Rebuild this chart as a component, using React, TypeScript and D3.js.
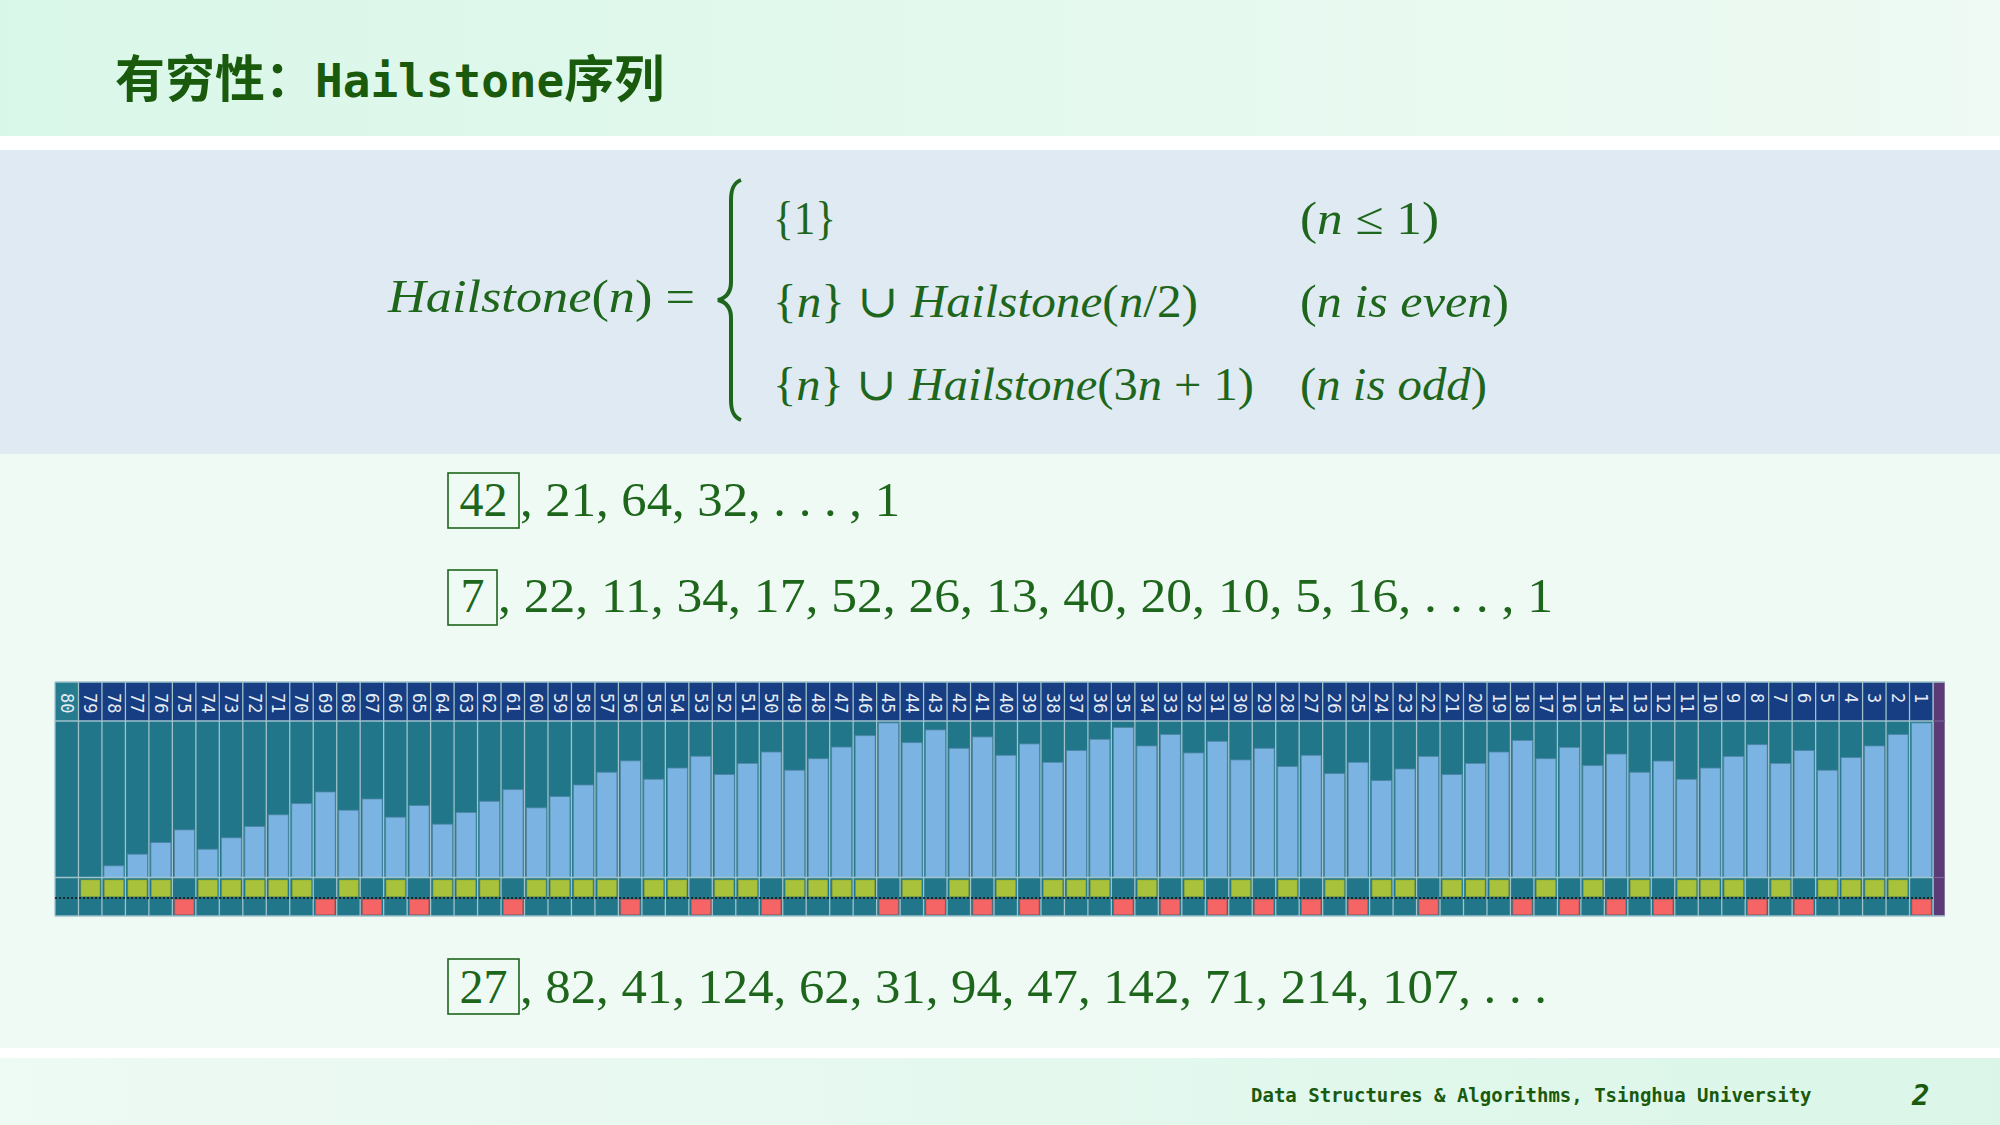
import React from "react";
import * as d3 from "d3";

// ---------- data ----------
const columnLabels = [
  80, 79, 78, 77, 76, 75, 74, 73, 72, 71, 70, 69, 68, 67, 66, 65, 64, 63, 62, 61,
  60, 59, 58, 57, 56, 55, 54, 53, 52, 51, 50, 49, 48, 47, 46, 45, 44, 43, 42, 41,
  40, 39, 38, 37, 36, 35, 34, 33, 32, 31, 30, 29, 28, 27, 26, 25, 24, 23, 22, 21,
  20, 19, 18, 17, 16, 15, 14, 13, 12, 11, 10, 9, 8, 7, 6, 5, 4, 3, 2, 1,
];
const barValues = [
  0, 0, 7.5, 15, 22.5, 30.6, 18.2, 25.5, 32.8, 40.3, 47.5, 55, 43.3, 50.5, 38.8, 46.3, 34.3, 41.8, 49, 56.5,
  44.8, 52, 59.5, 67.7, 75, 63.2, 70.4, 78, 66.2, 73.4, 80.7, 69, 76.4, 83.9, 91.2, 99.4, 86.7, 94.9, 83.1, 90.4,
  78.6, 85.9, 74.1, 81.6, 88.9, 96.4, 84.6, 91.9, 80.1, 87.6, 75.6, 83.1, 71.3, 78.6, 66.8, 74.1, 62.3, 69.8, 77.9, 66.2,
  73.4, 80.7, 88.2, 76.4, 83.7, 71.9, 79.4, 67.7, 74.9, 63.2, 70.4, 77.9, 85.4, 73.4, 81.6, 69, 77.1, 84.6, 91.9, 99.4,
];
const greenColumns = [
  79, 78, 77, 76, 74, 73, 72, 71, 70, 68, 66, 64, 63, 62, 60, 59, 58, 57, 55, 54, 52, 51, 49, 48, 47, 46,
  44, 42, 40, 38, 37, 36, 34, 32, 30, 28, 26, 24, 23, 21, 20, 19, 17, 15, 13, 11, 10, 9, 7, 5, 4, 3, 2,
];
const redColumns = [
  75, 69, 67, 65, 61, 56, 53, 50, 45, 43, 41, 39, 35, 33, 31, 29, 27, 25, 22, 18, 16, 14, 12, 8, 6, 1,
];
const seedColumn = 80;

const seq42Start = "42";
const seq42Rest = ", 21, 64, 32, . . . , 1";
const seq7Start = "7";
const seq7Rest = ", 22, 11, 34, 17, 52, 26, 13, 40, 20, 10, 5, 16, . . . , 1";
const seq27Start = "27";
const seq27Rest = ", 82, 41, 124, 62, 31, 94, 47, 142, 71, 214, 107, . . .";

// ---------- styles ----------
const GREEN_TEXT = "#1d661b";
const TITLE_GREEN = "#1a5a0c";
const TEAL = "#217689";
const NAVY = "#173d82";
const BAR = "#7bb4e2";
const BAR_EDGE = "#4e86a6";
const GRID = "#9fc2cb";
const LIME = "#a8c23b";
const RED = "#f66565";
const PURPLE = "#5b3a78";
const SERIF = "'Liberation Serif', 'DejaVu Serif', serif";
const MONO = "'DejaVu Sans Mono', 'Liberation Mono', monospace";
const CJK = "'Noto Sans CJK SC', sans-serif";

type Seg = [string, boolean];

function MathLine({ x, y, width, segs, size = 46 }: { x: number; y: number; width: number; segs: Seg[]; size?: number }) {
  return (
    <text
      x={x}
      y={y}
      fontFamily={SERIF}
      fontSize={size}
      fill={GREEN_TEXT}
      textLength={width}
      lengthAdjust="spacingAndGlyphs"
      style={{ whiteSpace: "pre" }}
    >
      {segs.map((s, i) => (
        <tspan key={i} fontStyle={s[1] ? "italic" : "normal"}>
          {s[0]}
        </tspan>
      ))}
    </text>
  );
}

function SeqLine({
  boxX, boxW, boxY, boxH, start, rest, restEnd, baseline,
}: {
  boxX: number; boxW: number; boxY: number; boxH: number; start: string; rest: string; restEnd: number; baseline: number;
}) {
  return (
    <g>
      <rect x={boxX} y={boxY} width={boxW} height={boxH} fill="none" stroke={GREEN_TEXT} strokeWidth={1.6} />
      <text x={boxX + boxW / 2} y={baseline} textAnchor="middle" fontFamily={SERIF} fontSize={48} fill={GREEN_TEXT}>
        {start}
      </text>
      <text
        x={boxX + boxW + 1}
        y={baseline}
        fontFamily={SERIF}
        fontSize={48}
        fill={GREEN_TEXT}
        textLength={restEnd - (boxX + boxW + 1)}
        lengthAdjust="spacingAndGlyphs"
      >
        {rest}
      </text>
    </g>
  );
}

function Chart() {
  const left = 55;
  const right = 1933;
  const top = 682;
  const headerBottom = 721;
  const barTop = 722;
  const barBottom = 877.5;
  const greenBottom = 898;
  const bottom = 916;

  const x = d3.scaleBand<number>().domain(columnLabels).range([left, right]).padding(0);
  const y = d3.scaleLinear().domain([0, 100]).range([barBottom, barTop]);
  const bw = x.bandwidth();

  return (
    <g>
      <rect x={left} y={top} width={right - left} height={bottom - top} fill={TEAL} />
      {columnLabels.map((c) => (
        <rect key={"h" + c} x={x(c)!} y={top} width={bw} height={headerBottom - top} fill={c === seedColumn ? "#267b8e" : NAVY} />
      ))}
      {columnLabels.map((c, i) =>
        barValues[i] > 0 ? (
          <rect
            key={"b" + c}
            x={x(c)! + 2}
            y={y(barValues[i])}
            width={bw - 3.5}
            height={barBottom - y(barValues[i])}
            fill={BAR}
            stroke={BAR_EDGE}
            strokeWidth={0.8}
          />
        ) : null
      )}
      {greenColumns.map((c) => (
        <rect key={"g" + c} x={x(c)! + 2.5} y={barBottom + 2.5} width={bw - 4.5} height={greenBottom - barBottom - 4} fill={LIME} stroke="#8ea52f" strokeWidth={0.6} />
      ))}
      {redColumns.map((c) => (
        <rect key={"r" + c} x={x(c)! + 2.5} y={greenBottom + 1.5} width={bw - 4.5} height={bottom - greenBottom - 3} fill={RED} stroke="#d94f4f" strokeWidth={0.6} />
      ))}
      {columnLabels.map((c) => (
        <line key={"v" + c} x1={x(c)!} x2={x(c)!} y1={top} y2={bottom} stroke={GRID} strokeWidth={1.3} />
      ))}
      <line x1={right} x2={right} y1={top} y2={bottom} stroke={GRID} strokeWidth={1.3} />
      {[top, headerBottom, barBottom, bottom].map((yy, i) => (
        <line key={"hl" + i} x1={left} x2={right + 12} y1={yy} y2={yy} stroke={GRID} strokeWidth={1.3} />
      ))}
      <line x1={left} x2={right} y1={greenBottom} y2={greenBottom} stroke="#111" strokeWidth={1.4} strokeDasharray="2,2" />
      <rect x={right + 0.7} y={top + 0.7} width={11} height={bottom - top - 1.4} fill={PURPLE} />
      <line x1={right} x2={right + 12} y1={headerBottom} y2={headerBottom} stroke="#7d6a95" strokeWidth={1} />
      <line x1={right} x2={right + 12} y1={barBottom} y2={barBottom} stroke="#7d6a95" strokeWidth={1} />
      {columnLabels.map((c) => (
        <text
          key={"t" + c}
          transform={`translate(${x(c)! + bw / 2},${693}) rotate(90)`}
          fontFamily={MONO}
          fontSize={17}
          fill="#e4ebf3"
          dominantBaseline="central"
        >
          {String(c)}
        </text>
      ))}
    </g>
  );
}

export default function App() {
  return (
    <svg
      width={2000}
      height={1125}
      viewBox="0 0 2000 1125"
      style={{ position: "fixed", left: 0, top: 0, display: "block" }}
    >
      <defs>
        <linearGradient id="topBand" x1="0" x2="1" y1="0" y2="0">
          <stop offset="0" stopColor="#d9f7e9" />
          <stop offset="1" stopColor="#eefaf3" />
        </linearGradient>
        <linearGradient id="footBand" x1="0" x2="1" y1="0" y2="0">
          <stop offset="0" stopColor="#eefaf4" />
          <stop offset="1" stopColor="#dbf6e9" />
        </linearGradient>
      </defs>
      <rect x={0} y={0} width={2000} height={1125} fill="#f0faf5" />
      <rect x={0} y={0} width={2000} height={136} fill="url(#topBand)" />
      <rect x={0} y={136} width={2000} height={14} fill="#ffffff" />
      <rect x={0} y={150} width={2000} height={304} fill="#e0eaf2" />
      <rect x={0} y={1048} width={2000} height={10} fill="#ffffff" />
      <rect x={0} y={1058} width={2000} height={67} fill="url(#footBand)" />

      <text x={115} y={97} fill={TITLE_GREEN} fontWeight="bold" style={{ whiteSpace: "pre" }}>
        <tspan fontFamily={CJK} fontSize={50}>有穷性：</tspan>
        <tspan fontFamily={MONO} fontSize={46}>Hailstone</tspan>
        <tspan fontFamily={CJK} fontSize={50}>序列</tspan>
      </text>

      <MathLine x={388} y={312} width={307} segs={[["Hailstone", true], ["(", false], ["n", true], [") =", false]]} />
      <path
        d="M741,180 C733,183 731,190 731,200 L731,282 C731,292 726,298 718,300 C726,302 731,308 731,318 L731,400 C731,410 733,417 741,420"
        fill="none"
        stroke={GREEN_TEXT}
        strokeWidth={4}
      />
      <MathLine x={773} y={234} width={63} segs={[["{1}", false]]} />
      <MathLine x={1300} y={234} width={139} segs={[["(", false], ["n", true], [" ≤ 1)", false]]} />
      <MathLine
        x={773}
        y={317}
        width={425}
        segs={[["{", false], ["n", true], ["} ∪ ", false], ["Hailstone", true], ["(", false], ["n", true], ["/2)", false]]}
      />
      <MathLine x={1300} y={317} width={209} segs={[["(", false], ["n is even", true], [")", false]]} />
      <MathLine
        x={773}
        y={400}
        width={481}
        segs={[["{", false], ["n", true], ["} ∪ ", false], ["Hailstone", true], ["(3", false], ["n", true], [" + 1)", false]]}
      />
      <MathLine x={1300} y={400} width={187} segs={[["(", false], ["n is odd", true], [")", false]]} />

      <SeqLine boxX={448} boxW={71} boxY={473} boxH={55} start={seq42Start} rest={seq42Rest} restEnd={900} baseline={516} />
      <SeqLine boxX={448} boxW={49} boxY={570} boxH={55} start={seq7Start} rest={seq7Rest} restEnd={1553} baseline={612} />
      <SeqLine boxX={448} boxW={71} boxY={959} boxH={55} start={seq27Start} rest={seq27Rest} restEnd={1547} baseline={1003} />

      <Chart />

      <text x={1251} y={1102} fontFamily={MONO} fontWeight="bold" fontSize={19} fill={TITLE_GREEN}>
        Data Structures &amp; Algorithms, Tsinghua University
      </text>
      <text x={1912} y={1105} fontFamily={MONO} fontWeight="bold" fontStyle="italic" fontSize={29} fill={TITLE_GREEN}>
        2
      </text>
    </svg>
  );
}
